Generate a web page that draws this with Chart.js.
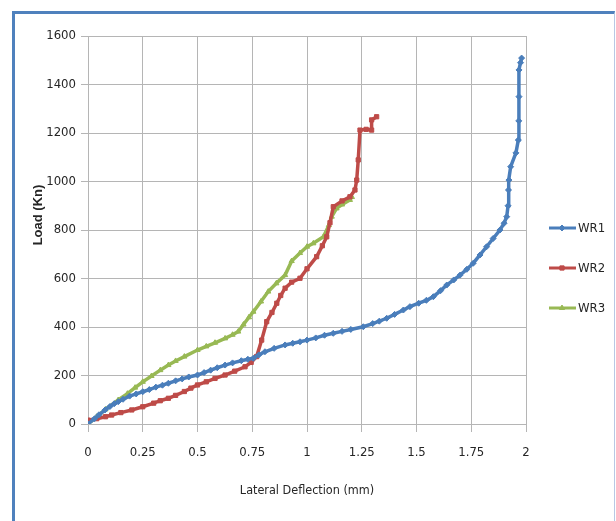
<!DOCTYPE html>
<html>
<head>
<meta charset="utf-8">
<script src="https://cdn.jsdelivr.net/npm/chart.js@4.4.1/dist/chart.umd.min.js"></script>
<style>
  html, body { margin: 0; padding: 0; background: #fff; overflow: hidden; }
  #frame {
    position: absolute; left: 12px; top: 11px; width: 599px; height: 600px;
    border-top: 3px solid #4f81bd; border-left: 3px solid #4f81bd; border-right: 1px solid #b8c8e4;
  }
  #chart { position: absolute; left: 0; top: 0; }
</style>
</head>
<body>
<div id="frame"></div>
<canvas id="chart" width="616" height="521"></canvas>
<script>
// axis ticks
const xTicks = [0, 0.25, 0.5, 0.75, 1, 1.25, 1.5, 1.75, 2];
const yTicks = [0, 200, 400, 600, 800, 1000, 1200, 1400, 1600];

const seriesNames = ['WR1', 'WR2', 'WR3'];
const xTitle = 'Lateral Deflection (mm)';
const yTitle = 'Load (Kn)';

// WR1 - lateral deflection (mm) / load (kN)
const wr1X = [0, 0.03, 0.05, 0.078, 0.1, 0.12, 0.138, 0.16, 0.19, 0.22, 0.25, 0.28, 0.31, 0.34, 0.367, 0.4, 0.43, 0.46,
  0.5, 0.53, 0.56, 0.59, 0.626, 0.66, 0.7, 0.73, 0.755, 0.78, 0.808, 0.85, 0.9, 0.935, 0.968, 1.0, 1.04, 1.08, 1.12,
  1.16, 1.2, 1.257, 1.3, 1.33, 1.364, 1.4, 1.44, 1.47, 1.51, 1.545, 1.577, 1.61, 1.638, 1.67, 1.699, 1.73, 1.759,
  1.79, 1.82, 1.85, 1.881, 1.9, 1.912, 1.918, 1.92, 1.922, 1.93, 1.954, 1.965, 1.967, 1.968, 1.968, 1.975, 1.98];
const wr1Y = [0, 22, 38, 58, 72, 84, 92, 102, 115, 124, 133, 142, 152, 160, 168, 178, 186, 194,
  202, 212, 222, 232, 243, 252, 261, 267, 271, 285, 298, 312, 326, 333, 339, 346, 355, 366, 374,
  382, 390, 401, 414, 424, 436, 452, 470, 484, 498, 510, 525, 550, 573, 594, 614, 638, 663,
  697, 731, 765, 800, 828, 855, 900, 965, 1006, 1061, 1118, 1171, 1250, 1350, 1460, 1490, 1509];

// WR2
const wr2X = [0, 0.04, 0.08, 0.108, 0.15, 0.2, 0.25, 0.3, 0.33, 0.367, 0.4, 0.44, 0.47, 0.5, 0.54, 0.58, 0.626, 0.67,
  0.717, 0.745, 0.77, 0.793, 0.816, 0.84, 0.862, 0.88, 0.9, 0.93, 0.968, 1.0, 1.044, 1.07, 1.09, 1.105, 1.12, 1.16,
  1.196, 1.219, 1.227, 1.234, 1.242, 1.27, 1.295, 1.295, 1.318];
const wr2Y = [16, 22, 30, 37, 47, 58, 71, 86, 96, 106, 118, 134, 148, 161, 174, 188, 202, 218,
  236, 254, 278, 346, 422, 460, 498, 530, 560, 585, 601, 640, 690, 735, 772, 830, 896, 920,
  937, 965, 1006, 1089, 1212, 1215, 1212, 1254, 1267];

// WR3
const wr3X = [0, 0.04, 0.08, 0.138, 0.18, 0.215, 0.25, 0.29, 0.33, 0.367, 0.4, 0.44, 0.5, 0.54, 0.58, 0.626, 0.66,
  0.686, 0.71, 0.735, 0.755, 0.79, 0.823, 0.86, 0.9, 0.93, 0.968, 1.0, 1.029, 1.075, 1.1, 1.113, 1.135, 1.16, 1.196, 1.205];
const wr3Y = [0, 30, 60, 99, 125, 150, 174, 198, 222, 243, 260, 278, 305, 320, 335, 353, 368,
  381, 410, 440, 463, 505, 546, 580, 614, 672, 705, 731, 745, 772, 820, 855, 889, 905, 924, 936];

const colors = ['#4a7ebb', '#be4b48', '#98b954'];
const markers = ['rectRot', 'rect', 'triangle'];
const legendY = [228, 268, 308];

const FONT = "'DejaVu Sans Condensed', 'Liberation Sans Narrow', sans-serif";
const GRID = '#b5b5b5';
const TEXT = '#262626';

function pts(xs, ys) {
  return xs.map((x, i) => ({ x: x, y: ys[i] }));
}

// excel-style legend on the right plus the y axis title
const sideLegend = {
  id: 'sideLegend',
  afterDraw(chart) {
    const ctx = chart.ctx;
    chart.data.datasets.forEach((ds, i) => {
      const y = legendY[i];
      ctx.save();
      ctx.strokeStyle = ds.borderColor;
      ctx.fillStyle = ds.borderColor;
      ctx.lineWidth = 3;
      ctx.beginPath();
      ctx.moveTo(549, y);
      ctx.lineTo(576, y);
      ctx.stroke();
      ctx.lineWidth = 1;
      Chart.helpers.drawPoint(ctx, { pointStyle: ds.pointStyle, radius: 3, borderWidth: 1, rotation: 0 }, 562, y);
      ctx.fillStyle = TEXT;
      ctx.font = '13px ' + FONT;
      ctx.textBaseline = 'middle';
      ctx.textAlign = 'left';
      ctx.fillText(ds.label, 578, y + 1);
      ctx.restore();
    });

    ctx.save();
    ctx.translate(38, 215);
    ctx.rotate(-Math.PI / 2);
    ctx.fillStyle = TEXT;
    ctx.font = "bold 13px 'Liberation Sans', Arial, sans-serif";
    ctx.textAlign = 'center';
    ctx.textBaseline = 'middle';
    ctx.fillText(yTitle, 0, 0);
    ctx.restore();
  }
};

new Chart(document.getElementById('chart').getContext('2d'), {
  type: 'line',
  data: {
    datasets: [
      { label: seriesNames[0], data: pts(wr1X, wr1Y) },
      { label: seriesNames[1], data: pts(wr2X, wr2Y) },
      { label: seriesNames[2], data: pts(wr3X, wr3Y) }
    ].map((d, i) => Object.assign(d, {
      borderColor: colors[i],
      backgroundColor: colors[i],
      pointStyle: markers[i],
      pointRadius: 3,
      pointBorderWidth: 1,
      borderWidth: 3.5,
      tension: 0,
      fill: false
    }))
  },
  options: {
    responsive: false,
    devicePixelRatio: 1,
    animation: false,
    layout: { padding: { top: 36, right: 90, bottom: 0, left: 0 } },
    plugins: { legend: { display: false }, tooltip: { enabled: false } },
    scales: {
      x: {
        type: 'linear',
        min: 0, max: 2,
        afterBuildTicks: s => { s.ticks = xTicks.map(v => ({ value: v })); },
        afterFit: s => { s.height = 97; },
        grid: { color: GRID, tickLength: 8, tickColor: GRID },
        border: { color: GRID },
        ticks: { padding: 13, color: TEXT, font: { family: FONT, size: 13 }, maxRotation: 0,
          callback: v => String(v) },
        title: { display: true, text: xTitle, color: TEXT,
          font: { family: FONT, size: 12.5 }, padding: { top: 4, bottom: 23 } }
      },
      y: {
        min: 0, max: 1600,
        afterBuildTicks: s => { s.ticks = yTicks.map(v => ({ value: v })); },
        afterFit: s => { s.width = 88; },
        grid: { color: GRID, tickLength: 7, tickColor: GRID },
        border: { color: GRID },
        ticks: { padding: 5, color: TEXT, font: { family: FONT, size: 13 }, callback: v => String(v) },
        title: { display: false }
      }
    }
  },
  plugins: [sideLegend]
});
</script>
</body>
</html>
